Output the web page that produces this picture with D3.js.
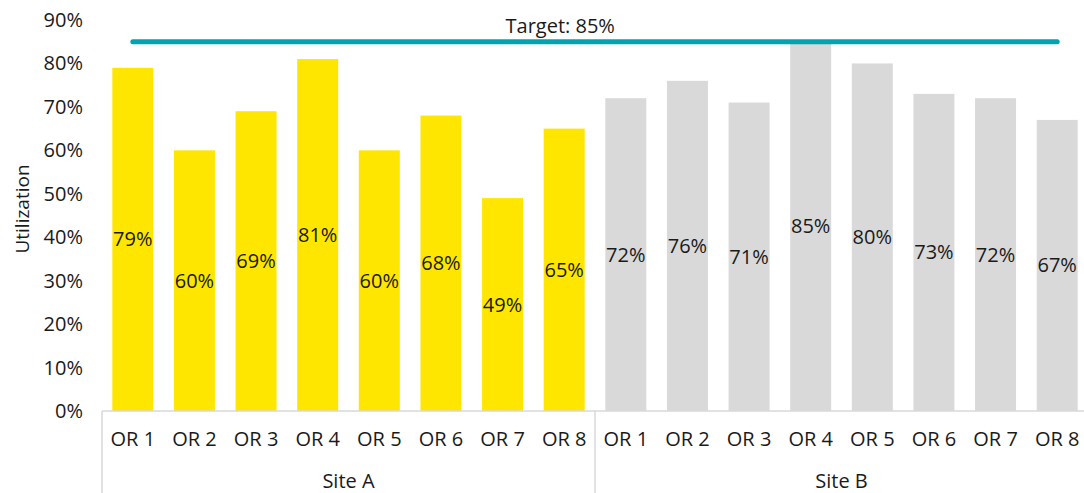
<!DOCTYPE html>
<html>
<head>
<meta charset="utf-8">
<script src="https://cdn.jsdelivr.net/npm/d3@7"></script>
<style>
  body { margin: 0; background: #fff; }
  text { font-family: "Open Sans", Roboto, sans-serif; fill: #1a1a1a; }
</style>
</head>
<body>
<div id="chart"></div>
<script>
// chart data
var sites = ["Site A", "Site B"];
var rooms = ["OR 1", "OR 2", "OR 3", "OR 4", "OR 5", "OR 6", "OR 7", "OR 8"];
var siteA = [79, 60, 69, 81, 60, 68, 49, 65];
var siteB = [72, 76, 71, 85, 80, 73, 72, 67];
var yTicks = [0, 10, 20, 30, 40, 50, 60, 70, 80, 90];
var target = 85;

var width = 1084, height = 493;
var margin = { top: 20, right: -4, bottom: 82, left: 102 };
var innerW = width - margin.left - margin.right;
var innerH = height - margin.top - margin.bottom;

var data = [];
siteA.forEach(function(v, i) { data.push({ site: sites[0], room: rooms[i], value: v }); });
siteB.forEach(function(v, i) { data.push({ site: sites[1], room: rooms[i], value: v }); });
data.forEach(function(d, i) { d.key = i; });

var svg = d3.select("#chart").append("svg")
  .attr("width", width)
  .attr("height", height);

var g = svg.append("g")
  .attr("transform", "translate(" + margin.left + "," + margin.top + ")");

var x = d3.scaleBand()
  .domain(data.map(function(d) { return d.key; }))
  .range([0, innerW])
  .paddingInner(0.335)
  .paddingOuter(0.1675);

var y = d3.scaleLinear().domain([0, 90]).range([innerH, 0]);

var colors = { "Site A": "#ffe600", "Site B": "#d9d9d9" };

// y axis labels
g.selectAll(".ytick").data(yTicks).enter().append("text")
  .attr("class", "ytick")
  .attr("x", -19)
  .attr("y", function(d) { return y(d); })
  .attr("dy", "0.35em")
  .attr("text-anchor", "end")
  .style("font-size", "20px")
  .text(function(d) { return d + "%"; });

// bars
g.selectAll("rect.bar").data(data).enter().append("rect")
  .attr("class", "bar")
  .attr("x", function(d) { return x(d.key); })
  .attr("y", function(d) { return y(d.value); })
  .attr("width", x.bandwidth())
  .attr("height", function(d) { return innerH - y(d.value); })
  .attr("fill", function(d) { return colors[d.site]; });

// data labels, centred in the bar
g.selectAll(".lbl").data(data).enter().append("text")
  .attr("class", "lbl")
  .attr("x", function(d) { return x(d.key) + x.bandwidth() / 2; })
  .attr("y", function(d) { return (y(d.value) + innerH) / 2; })
  .attr("dy", "0.35em")
  .attr("text-anchor", "middle")
  .style("font-size", "20px")
  .text(function(d) { return d.value + "%"; });

// x axis base line and category separators
var axisColor = "#d9d9d9";
g.append("line")
  .attr("x1", 0).attr("x2", innerW)
  .attr("y1", innerH).attr("y2", innerH)
  .attr("stroke", axisColor).attr("stroke-width", 1.5);

var step = x.step();
[0, 8, 16].forEach(function(k) {
  var xx = k * step;
  g.append("line")
    .attr("x1", xx).attr("x2", xx)
    .attr("y1", innerH).attr("y2", height - margin.top)
    .attr("stroke", axisColor).attr("stroke-width", 1.5);
});

// room labels
g.selectAll(".room").data(data).enter().append("text")
  .attr("class", "room")
  .attr("x", function(d) { return x(d.key) + x.bandwidth() / 2; })
  .attr("y", innerH + 28)
  .attr("dy", "0.35em")
  .attr("text-anchor", "middle")
  .style("font-size", "20px")
  .text(function(d) { return d.room; });

// site labels
g.selectAll(".site").data(sites).enter().append("text")
  .attr("class", "site")
  .attr("x", function(d, i) { return (i * 8 + 4) * step; })
  .attr("y", innerH + 70)
  .attr("dy", "0.35em")
  .attr("text-anchor", "middle")
  .style("font-size", "20px")
  .text(function(d) { return d; });

// target line
var x0 = x(0) + x.bandwidth() / 2;
var x1 = x(15) + x.bandwidth() / 2;
g.append("line")
  .attr("x1", x0).attr("x2", x1)
  .attr("y1", y(target)).attr("y2", y(target))
  .attr("stroke", "#00a4ae")
  .attr("stroke-width", 5)
  .attr("stroke-linecap", "round");

g.append("text")
  .attr("x", x(7) + x.bandwidth() / 2 - 4)
  .attr("y", y(target) - 16)
  .attr("dy", "0.35em")
  .attr("text-anchor", "middle")
  .style("font-size", "20px")
  .text("Target: " + target + "%");

// y axis title
svg.append("text")
  .attr("transform", "translate(22,209) rotate(-90)")
  .attr("text-anchor", "middle")
  .attr("dy", "0.35em")
  .style("font-size", "19px")
  .text("Utilization");
</script>
</body>
</html>
